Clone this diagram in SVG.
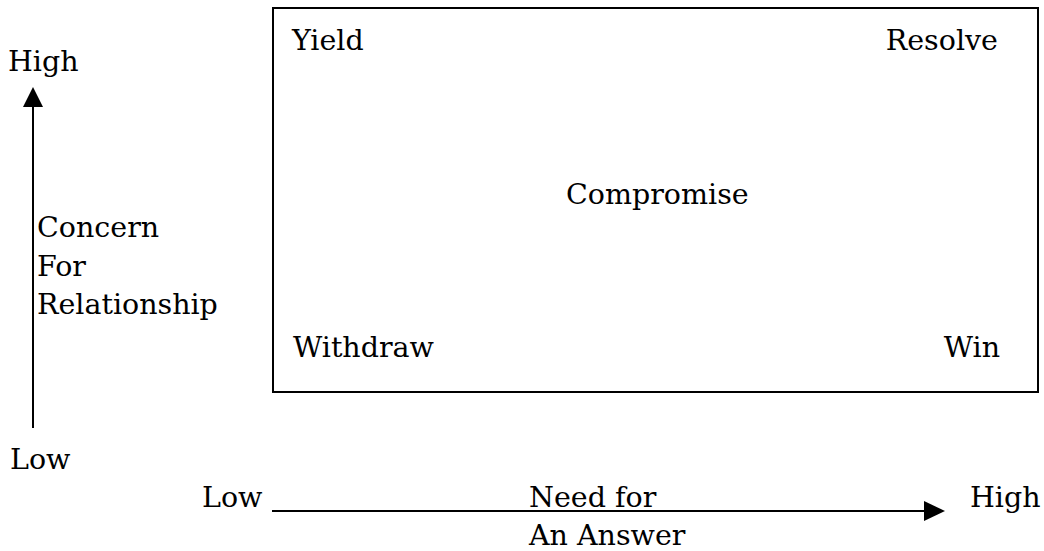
<svg xmlns="http://www.w3.org/2000/svg" width="1044" height="551" viewBox="0 0 1044 551">
<style>
text{font-family:"DejaVu Serif","Liberation Serif",serif;font-size:28.5px;fill:#000}
.ln{stroke:#000;stroke-width:2;fill:none}
.head{fill:#000}
</style>
<rect width="1044" height="551" fill="#fff"/>
<g id="box">
<rect x="273" y="8" width="765" height="384" class="ln"/>
<text x="292" y="50">Yield</text>
<text x="998" y="50" text-anchor="end">Resolve</text>
<text x="566" y="204">Compromise</text>
<text x="293" y="357">Withdraw</text>
<text x="1000" y="357" text-anchor="end">Win</text>
</g>
<g id="vaxis">
<text x="8" y="71">High</text>
<text x="37" y="237">Concern</text>
<text x="37" y="276">For</text>
<text x="37" y="314">Relationship</text>
<text x="10" y="469">Low</text>
</g>
<g id="haxis">
<text x="202" y="507">Low</text>
<text x="529" y="507">Need for</text>
<text x="529" y="545">An Answer</text>
<text x="970" y="507">High</text>
</g>
<g id="connectors">
<line x1="33" y1="428" x2="33" y2="105" class="ln"/>
<polygon points="33,87 23,107 43,107" class="head"/>
<line x1="272" y1="511" x2="926" y2="511" class="ln"/>
<polygon points="945,511 924,501 924,521" class="head"/>
</g>
</svg>
